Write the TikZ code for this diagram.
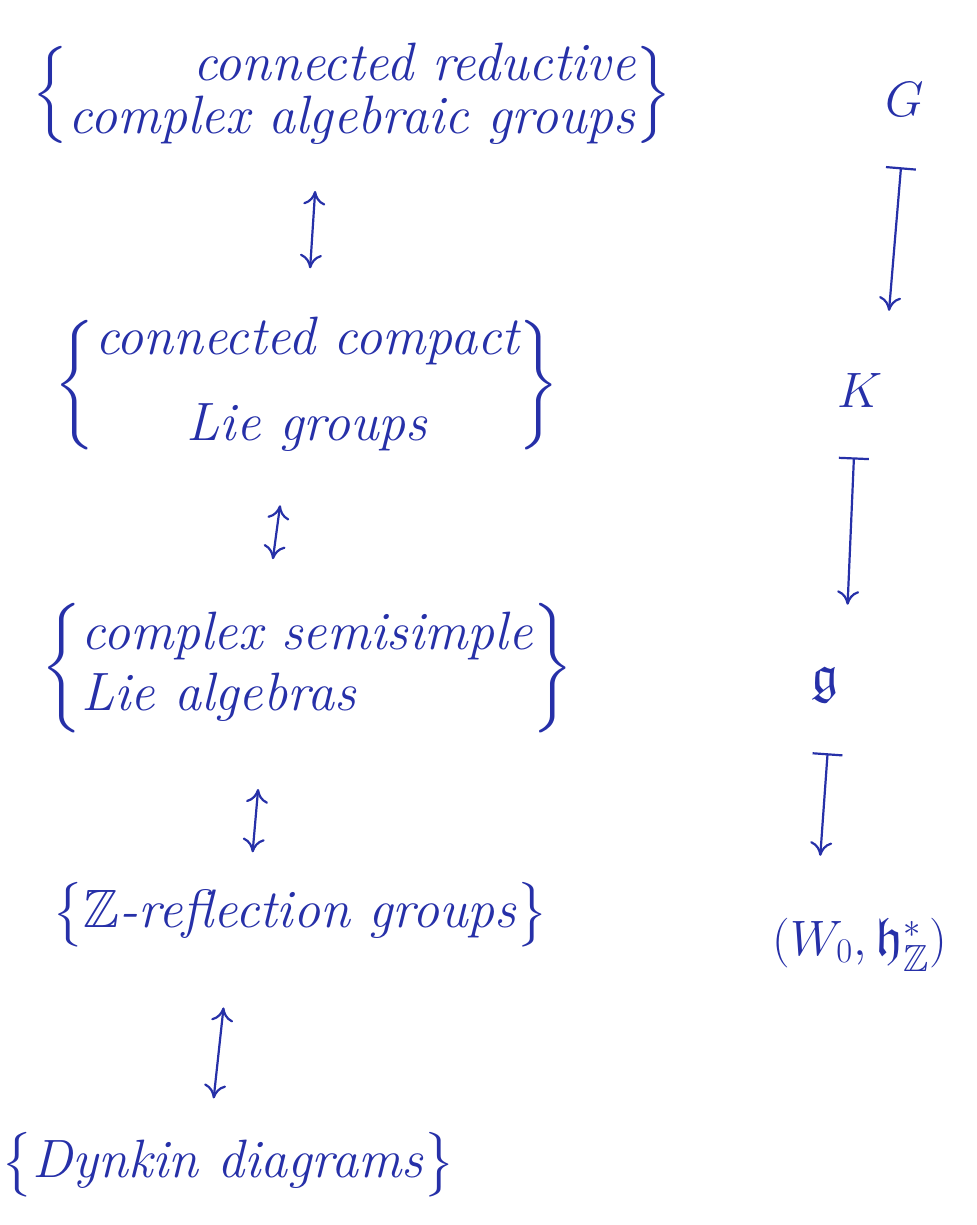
\documentclass[tikz,border=0pt]{standalone}
\usepackage{amsmath,amssymb}
\usepackage{tikz}
\usetikzlibrary{arrows.meta}
\definecolor{ink}{RGB}{38,48,168}
\begin{document}
\begin{tikzpicture}[x=0.5pt,y=-0.5pt,
  cls/.style = {text=ink, font=\fontsize{27}{22}\selectfont\itshape, inner sep=0pt},
  obj/.style = {text=ink, font=\fontsize{27}{22}\selectfont, inner sep=1pt},
  corr/.style = {draw=ink, line width=1.1pt, {To[length=7pt,width=11pt]}-{To[length=7pt,width=11pt]}},
  assign/.style = {draw=ink, line width=1.1pt, {Bar[width=15pt]}-{To[length=7pt,width=11pt]}}]
\useasboundingbox (0,0) rectangle (976,1225);
% left column: classes of objects
\node[cls] (red) at (352,95) {$\left\{\begin{tabular}{@{}r@{}}connected reductive\\[1pt] complex algebraic groups\end{tabular}\right\}$};
\node[cls] (cpt) at (307,385) {$\left\{\begin{tabular}{@{}c@{}}connected compact\\[18pt] Lie groups\end{tabular}\right\}$};
\node[cls] (lie) at (307,668) {$\left\{\begin{tabular}{@{}l@{}}complex semisimple\\[5pt] Lie algebras\end{tabular}\right\}$};
\node[cls] (refl) at (300,915) {$\bigl\{\text{$\mathbb{Z}$-reflection groups}\bigr\}$};
\node[cls] (dyn) at (228,1165) {$\bigl\{\text{Dynkin diagrams}\bigr\}$};
\draw[corr, shorten <=22pt, shorten >=24pt] ([xshift=-17pt]red.south) -- (cpt.north);
\draw[corr, shorten <=26pt, shorten >=22pt] ([xshift=-10pt]cpt.south) -- ([xshift=-20pt]lie.north);
\draw[corr, shorten <=28pt, shorten >=15pt] ([xshift=-22pt]lie.south) -- ([xshift=-25pt]refl.north);
\draw[corr, shorten <=30pt, shorten >=17pt] ([xshift=-35pt]refl.south) -- ([xshift=-9pt]dyn.north);
% right column: one object of each kind
\node[obj] (G) at (905,100) {$G$};
\node[obj] (K) at (860,390) {$K$};
\node[obj] (g) at (825,685) {$\mathfrak{g}$};
\node[obj] (W) at (860,945) {$(W_0,\mathfrak{h}^*_{\mathbb{Z}})$};
\draw[assign, shorten <=24pt, shorten >=30pt] (G.south) -- ([xshift=12pt]K.north);
\draw[assign, shorten <=24pt, shorten >=30pt] ([xshift=-2pt]K.south) -- ([xshift=10pt]g.north);
\draw[assign, shorten <=24pt, shorten >=30pt] ([xshift=3pt]g.south) -- ([xshift=-22pt]W.north);
\end{tikzpicture}
\end{document}
